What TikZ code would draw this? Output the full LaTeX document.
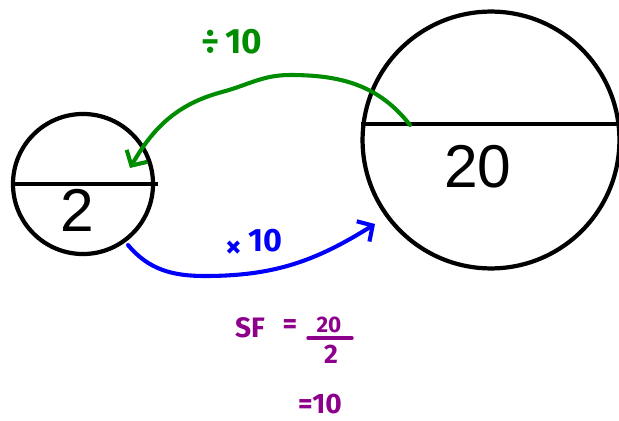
\documentclass[tikz,border=0pt]{standalone}
\usepackage{fontspec}
\setmainfont{Liberation Sans}
\newfontfamily\penfont{Fira Sans}
\usetikzlibrary{arrows.meta}
\definecolor{pengreen}{RGB}{0,140,0}
\definecolor{penblue}{RGB}{0,0,250}
\definecolor{penpurple}{RGB}{140,0,140}

\tikzset{
	rim/.style={draw,circle,line width=3pt,inner sep=0pt},
	chord/.style={line width=3pt},
	pen/.style={line width=2.9pt,line cap=round,line join=round,-{Straight Barb[length=8pt,width=17pt]}},
	ink/.style={font=\penfont\bfseries\fontsize{#1}{#1}\selectfont,inner sep=0pt}
}

\begin{document}
\begin{tikzpicture}[x=0.025cm,y=-0.025cm]
			\useasboundingbox (0,0) rectangle (619,421);

			% circles
			\node[rim,minimum size=3.5cm] (small) at (83,184) {};
			\node[rim,minimum size=6.42cm] (big) at (491,140) {};
			\draw[chord] (small.west) -- ([xshift=2pt]small.east);
			\draw[chord] (big.173) -- (big.7);

			\node[font=\fontsize{43}{43}\selectfont,inner sep=0pt] (two) at (77,210) {2};
			\node[font=\fontsize{43}{43}\selectfont,inner sep=0pt] (twenty) at (478,167) {20};

			% arrows
			\coordinate (gs) at (410,125);
			\coordinate (gtop) at (290,75);
			\coordinate (gmid) at (222,92);
			\coordinate (ge) at (130,168);
			\draw[pen,pengreen] (gs) to[out=128,in=0] (gtop) to[out=180,in=15] (gmid) to[out=195,in=60] (ge);

			\coordinate (bs) at (128,245);
			\coordinate (bbot) at (205,276);
			\coordinate (be) at (375,224);
			\draw[pen,penblue] (bs) to[out=-50,in=180] (bbot) to[out=0,in=212] (be);

			\node[ink=25,pengreen] (div) at (232,42) {÷\,10};
			\node[ink=23,penblue] (times) at (234,249) {×};
			\node[ink=23,penblue] (ten) at (265,241) {10};

			% scale factor
			\node[ink=20,penpurple] (sf) at (250,328) {SF};
			\node[ink=20,penpurple] (eq) at (290,327) {=};
			\node[ink=16,penpurple] (num) at (329,325) {20};
			\node[ink=19,penpurple] (den) at (331,354) {2};
			\draw[penpurple,line width=2.4pt,line cap=round] (308,338) -- (352,338);
			\node[ink=20,penpurple] (res) at (320,404) {=10};

			% \draw[help lines,step=20] (0,0) grid (619,421);
\end{tikzpicture}
\end{document}
